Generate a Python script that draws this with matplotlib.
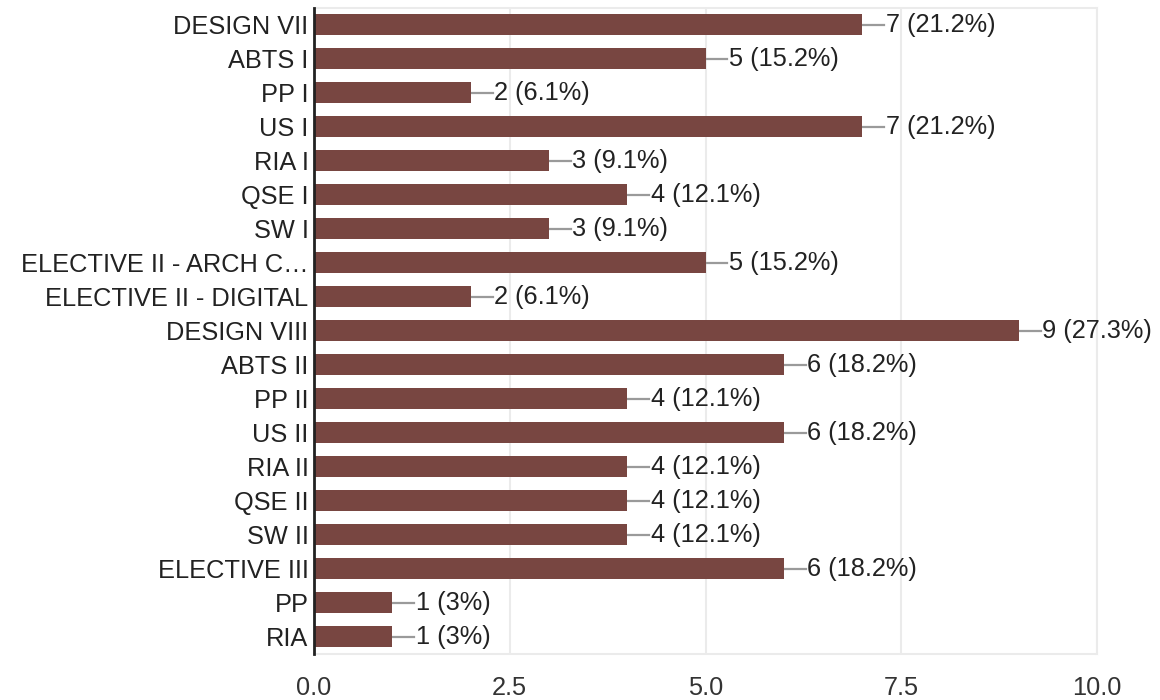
import matplotlib
matplotlib.use('Agg')
import matplotlib.pyplot as plt

plt.rcParams['font.family'] = ['Liberation Sans', 'DejaVu Sans']

# данные с картинки
categories = ['DESIGN VII', 'ABTS I', 'PP I', 'US I', 'RIA I', 'QSE I', 'SW I',
              'ELECTIVE II - ARCH C\u2026', 'ELECTIVE II - DIGITAL', 'DESIGN VIII',
              'ABTS II', 'PP II', 'US II', 'RIA II', 'QSE II', 'SW II',
              'ELECTIVE III', 'PP', 'RIA']
counts = [7, 5, 2, 7, 3, 4, 3, 5, 2, 9, 6, 4, 6, 4, 4, 4, 6, 1, 1]
percents = ['21.2', '15.2', '6.1', '21.2', '9.1', '12.1', '9.1', '15.2', '6.1', '27.3',
            '18.2', '12.1', '18.2', '12.1', '12.1', '12.1', '18.2', '3', '3']
xticks = [0.0, 2.5, 5.0, 7.5, 10.0]

fig = plt.figure(figsize=(11.6, 7), dpi=100)
ax = fig.add_axes([0.2707, 0.066, 0.9457 - 0.2707, 0.989 - 0.066])

pos = range(len(categories))
ax.barh(pos, counts, height=0.62, color='#784641', zorder=3)

# подписи с серой линией-выноской
for i, (c, p) in enumerate(zip(counts, percents)):
    ax.plot([c, c + 0.28], [i, i], color='#9a9a9a', lw=1.6, zorder=2, clip_on=False)
    ax.text(c + 0.3, i, '%d (%s%%)' % (c, p), va='center', ha='left',
            fontsize=18.3, color='#222222', clip_on=False)

ax.set_yticks(list(pos))
ax.set_yticklabels(categories, fontsize=18.3, color='#222222')
ax.set_ylim(len(categories) - 0.5, -0.5)
ax.set_xlim(0, 10)
ax.set_xticks(xticks)
ax.set_xticklabels(['%.1f' % t for t in xticks], fontsize=18.3, color='#333333')
ax.tick_params(axis='y', length=0, pad=4)
ax.tick_params(axis='x', length=0, pad=16)

ax.grid(axis='x', color='#ebebeb', lw=1.5, zorder=0)
for s in ['top', 'right', 'bottom']:
    ax.spines[s].set_color('#ebebeb')
    ax.spines[s].set_linewidth(1.5)
ax.spines['left'].set_color('#222222')
ax.spines['left'].set_linewidth(2)
ax.spines['left'].set_zorder(4)

fig.savefig('out.png', dpi=100)
